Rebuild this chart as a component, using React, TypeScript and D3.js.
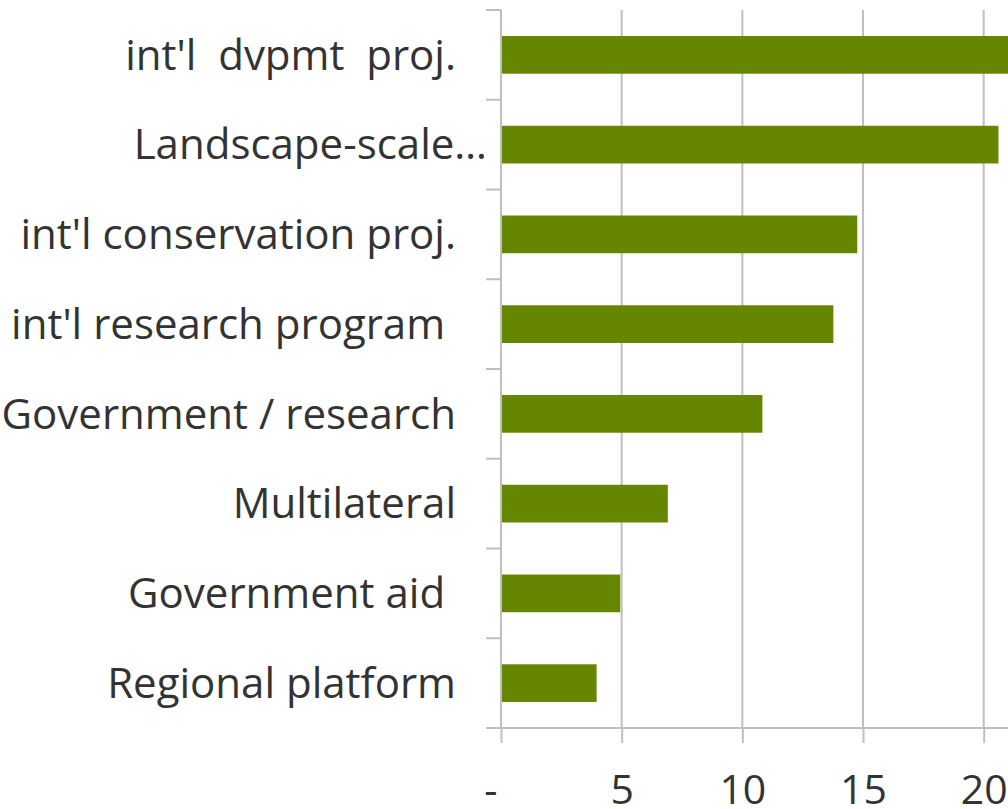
import * as d3 from "d3";
import { useEffect, useRef } from "react";

const categories = [
  "int'l  dvpmt  proj.",
  "Landscape-scale…",
  "int'l conservation proj.",
  "int'l research program ",
  "Government / research",
  "Multilateral",
  "Government aid ",
  "Regional platform",
];
const values = [22, 20.57, 14.72, 13.73, 10.79, 6.87, 4.9, 3.92];
const xTicks = [0, 5, 10, 15, 20];
const xTickLabels = ["-  ", "5", "10", "15", "20"];

const W = 1008;
const H = 809;
const margin = { top: 10, right: -22, bottom: 81, left: 501 };
const innerW = W - margin.left - margin.right;
const innerH = H - margin.top - margin.bottom;
const barColor = "#668500";
const gridColor = "#bfbfbf";
const textColor = "#333333";
const font = "'Open Sans', sans-serif";

function AxisBottom({ scale }: { scale: d3.ScaleLinear<number, number> }) {
  const ref = useRef<SVGGElement>(null);
  useEffect(() => {
    if (!ref.current) return;
    const axis = d3
      .axisBottom(scale)
      .tickValues(xTicks)
      .tickSize(15)
      .tickPadding(32)
      .tickFormat((_, i) => xTickLabels[i]);
    const g = d3.select(ref.current).call(axis);
    g.select(".domain").remove();
    g.selectAll(".tick line").attr("stroke", gridColor).attr("stroke-width", 2);
    g.selectAll(".tick text")
      .attr("fill", textColor)
      .style("font-family", font)
      .style("font-size", "41px")
      .style("white-space", "pre");
  }, [scale]);
  return <g ref={ref} transform={`translate(0, ${innerH})`} />;
}

function AxisLeft({ scale }: { scale: d3.ScaleBand<string> }) {
  const ref = useRef<SVGGElement>(null);
  useEffect(() => {
    if (!ref.current) return;
    const g = d3.select(ref.current);
    g.selectAll("*").remove();
    const step = scale.step();
    const edges = d3.range(categories.length + 1).map((i) => i * step);
    g.selectAll("line.edge")
      .data(edges)
      .join("line")
      .attr("class", "edge")
      .attr("x1", -15)
      .attr("x2", 0)
      .attr("y1", (d) => d)
      .attr("y2", (d) => d)
      .attr("stroke", gridColor)
      .attr("stroke-width", 2);
    g.selectAll("text.cat")
      .data(categories)
      .join("text")
      .attr("class", "cat")
      .attr("x", (d) => (d.endsWith("…") ? -14 : -45))
      .attr("y", (d) => (scale(d) ?? 0) + scale.bandwidth() / 2)
      .attr("dy", "0.35em")
      .attr("text-anchor", "end")
      .attr("fill", textColor)
      .style("font-family", font)
      .style("font-size", "42px")
      .style("white-space", "pre")
      .text((d) => d);
  }, [scale]);
  return <g ref={ref} />;
}

export default function App() {
  const x = d3.scaleLinear().domain([0, 20]).range([0, 482.7]);
  const y = d3
    .scaleBand<string>()
    .domain(categories)
    .range([0, innerH])
    .paddingInner(0.58)
    .paddingOuter(0.29);

  return (
    <svg
      width={W}
      height={H}
      style={{ position: "absolute", left: 0, top: 0, background: "#ffffff" }}
    >
      <g transform={`translate(${margin.left}, ${margin.top})`}>
        {xTicks.slice(1).map((t) => (
          <line
            key={`grid-${t}`}
            x1={x(t)}
            x2={x(t)}
            y1={0}
            y2={innerH}
            stroke={gridColor}
            strokeWidth={2}
          />
        ))}
        {categories.map((c, i) => (
          <rect
            key={`bar-${c}`}
            x={x(0) + 1}
            y={y(c)}
            width={x(values[i])}
            height={y.bandwidth()}
            fill={barColor}
          />
        ))}
        <line x1={0} x2={0} y1={0} y2={innerH} stroke={gridColor} strokeWidth={2} />
        <line x1={-15} x2={innerW} y1={innerH} y2={innerH} stroke={gridColor} strokeWidth={2} />
        <AxisLeft scale={y} />
        <AxisBottom scale={x} />
      </g>
    </svg>
  );
}
